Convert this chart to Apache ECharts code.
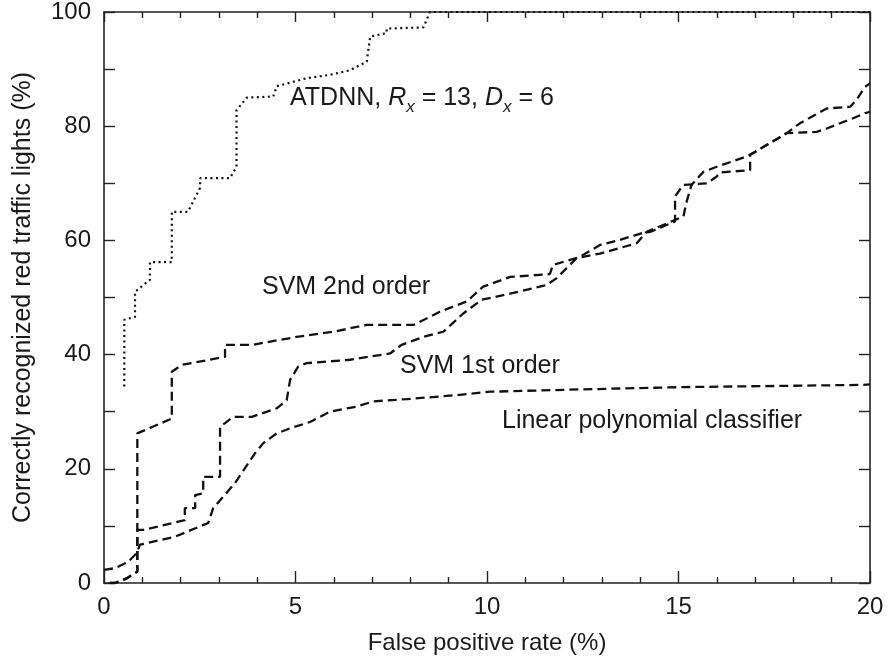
<!DOCTYPE html>
<html>
<head>
<meta charset="utf-8">
<script src="https://cdn.jsdelivr.net/npm/echarts@6/dist/echarts.min.js"></script>
<style>
html,body{margin:0;padding:0;background:#fff;}
#chart{width:890px;height:664px;}
</style>
</head>
<body>
<div id="chart"></div>
<script>
// ---- data ----
const xTicks = [0, 5, 10, 15, 20];
const yTicks = [0, 20, 40, 60, 80, 100];

const atdnnX = [0.53,0.53,0.81,0.81,0.94,1.20,1.20,1.77,1.77,2.19,2.51,2.51,3.29,3.46,3.46,3.73,4.42,4.51,5.29,5.90,6.42,6.86,6.95,7.38,7.38,8.34,8.51,20];
const atdnnY = [34.4,46.1,46.6,51.0,51.7,53.1,56.2,56.2,65.0,65.0,69.2,70.9,70.9,72.9,82.8,85.0,85.2,87.0,88.4,89.0,89.8,91.3,95.7,96.3,97.1,97.3,100,100];

const svm2X = [0.15,0.29,0.59,0.87,0.87,1.77,1.77,2.03,3.16,3.16,3.86,5.03,5.99,6.86,8.08,8.77,9.47,9.90,10.60,11.64,11.72,12.42,12.95,13.47,14.07,14.26,14.91,14.91,15.12,15.74,16.00,16.08,16.87,16.87,17.83,18.61,18.87,19.56,19.87,20];
const svm2Y = [0,0,0.8,2.0,26.2,28.8,37.0,38.2,39.6,41.7,41.7,43.1,44.0,45.2,45.2,47.5,49.3,51.9,53.6,54.1,55.7,57.1,59.2,60.1,61.3,61.5,63.3,67.7,69.7,70.0,71.2,71.9,72.3,75.0,78.8,79.0,79.6,81.4,82.3,82.5];

const svm1X = [0.15,0.29,0.59,0.87,0.87,1.03,2.11,2.11,2.38,2.38,2.59,2.59,3.03,3.03,3.16,3.37,3.86,4.51,4.77,4.86,5.07,5.29,6.42,7.47,7.77,8.34,8.86,9.38,9.86,10.68,11.56,11.82,12.34,12.95,13.91,14.17,15.13,15.20,15.34,15.65,16.00,16.78,16.95,17.83,18.17,18.87,19.48,19.65,19.87,20];
const svm1Y = [0,0,0.8,2.0,9.3,9.3,11.0,13.1,13.1,15.4,15.7,18.6,18.6,27.4,28.0,29.1,29.1,30.6,32.0,35.6,37.9,38.5,39.1,40.2,41.7,43.1,44.0,47.2,49.6,50.8,52.2,53.4,56.9,57.7,59.5,61.5,64.2,66.5,69.7,72.0,72.9,74.7,75.3,78.8,80.5,83.1,83.4,84.6,86.9,87.5];

const linX = [0,0.29,0.63,0.85,0.94,1.85,2.72,2.85,3.42,3.94,4.16,4.51,4.86,5.38,5.90,6.60,7.03,7.90,9.21,10.08,12.43,15.05,19.83,20];
const linY = [2.3,2.6,3.7,5.2,6.7,8.1,10.5,13.1,17.5,22.7,24.5,26.2,27.1,28.2,30.0,30.9,31.8,32.2,32.9,33.5,33.9,34.3,34.7,34.8];

const xName = 'False positive rate (%)';
const yName = 'Correctly recognized red traffic lights (%)';

function pairs(xs, ys){ return xs.map((x,i)=>[x, ys[i]]); }

const FONT = '"Liberation Sans", Arial, Helvetica, sans-serif';
const INK = '#1a1a1a';

const chart = echarts.init(document.getElementById('chart'), null, {renderer:'canvas'});

const axisLineStyle = {color:'#222', width:1.6};
function xAx(pos, showLabel){
  return {
    type:'value', min:0, max:20, interval:5, position:pos,
    axisLine:{show:true, onZero:false, lineStyle:axisLineStyle},
    axisTick:{show:true, inside:true, length: pos==='bottom'?12:10, lineStyle:{color:'#222', width:1.4}},
    minorTick:{show:true, splitNumber:5, length:6, lineStyle:{color:'#222', width:1.4}},
    splitLine:{show:false},
    axisLabel:{show:showLabel, fontSize:24, fontFamily:FONT, color:INK, margin:12,
      formatter:(v)=> xTicks.indexOf(v)>=0 ? String(v) : ''},
    name: showLabel ? xName : '',
    nameLocation:'middle', nameGap:48,
    nameTextStyle:{fontSize:24, fontFamily:FONT, color:INK}
  };
}
function yAx(pos, showLabel){
  return {
    type:'value', min:0, max:100, interval:20, position:pos,
    axisLine:{show:true, onZero:false, lineStyle:axisLineStyle},
    axisTick:{show:true, inside:true, length:11, lineStyle:{color:'#222', width:1.4}},
    minorTick:{show:true, splitNumber:2, length:11, lineStyle:{color:'#222', width:1.4}},
    splitLine:{show:false},
    axisLabel:{show:showLabel, fontSize:24, fontFamily:FONT, color:INK, margin:13,
      padding:[8,0,0,0],
      formatter:(v)=> yTicks.indexOf(v)>=0 ? String(v) : ''},
    name: showLabel ? yName : '',
    nameLocation:'middle', nameGap:68,
    nameTextStyle:{fontSize:25, fontFamily:FONT, color:INK}
  };
}

const dashed = {color:'#111', width:2.3, type:[9,5]};

chart.setOption({
  backgroundColor:'#fff',
  animation:false,
  grid:{left:104, right:20, top:12, bottom:81, containLabel:false},
  xAxis:[xAx('bottom', true), xAx('top', false)],
  yAxis:[yAx('left', true), yAx('right', false)],
  series:[
    {name:'ATDNN', type:'line', data:pairs(atdnnX, atdnnY), showSymbol:false, symbol:'none',
      lineStyle:{color:'#111', width:2.2, type:[2,3.5]}, z:3},
    {name:'SVM 2nd order', type:'line', data:pairs(svm2X, svm2Y), symbol:'none', lineStyle:dashed},
    {name:'SVM 1st order', type:'line', data:pairs(svm1X, svm1Y), symbol:'none', lineStyle:dashed},
    {name:'Linear polynomial classifier', type:'line', data:pairs(linX, linY), symbol:'none', lineStyle:dashed}
  ],
  graphic:[
    {type:'text', x:290, y:98, style:{
      text:'ATDNN, {i|R}{s|x}{n| = 13, }{i|D}{s|x}{n| = 6}',
      fontSize:25, fontFamily:FONT, fill:INK, align:'left', verticalAlign:'middle',
      rich:{
        i:{fontSize:25, fontFamily:FONT, fontStyle:'italic', fill:INK},
        s:{fontSize:17, fontFamily:FONT, fontStyle:'italic', fill:INK, padding:[18,0,0,0]},
        n:{fontSize:25, fontFamily:FONT, fill:INK}
      }}},
    {type:'text', x:262, y:287, style:{text:'SVM 2nd order', fontSize:25, fontFamily:FONT, fill:INK, align:'left', verticalAlign:'middle'}},
    {type:'text', x:400, y:366, style:{text:'SVM 1st order', fontSize:25, fontFamily:FONT, fill:INK, align:'left', verticalAlign:'middle'}},
    {type:'text', x:502, y:421, style:{text:'Linear polynomial classifier', fontSize:25, fontFamily:FONT, fill:INK, align:'left', verticalAlign:'middle'}}
  ]
});
</script>
</body>
</html>
